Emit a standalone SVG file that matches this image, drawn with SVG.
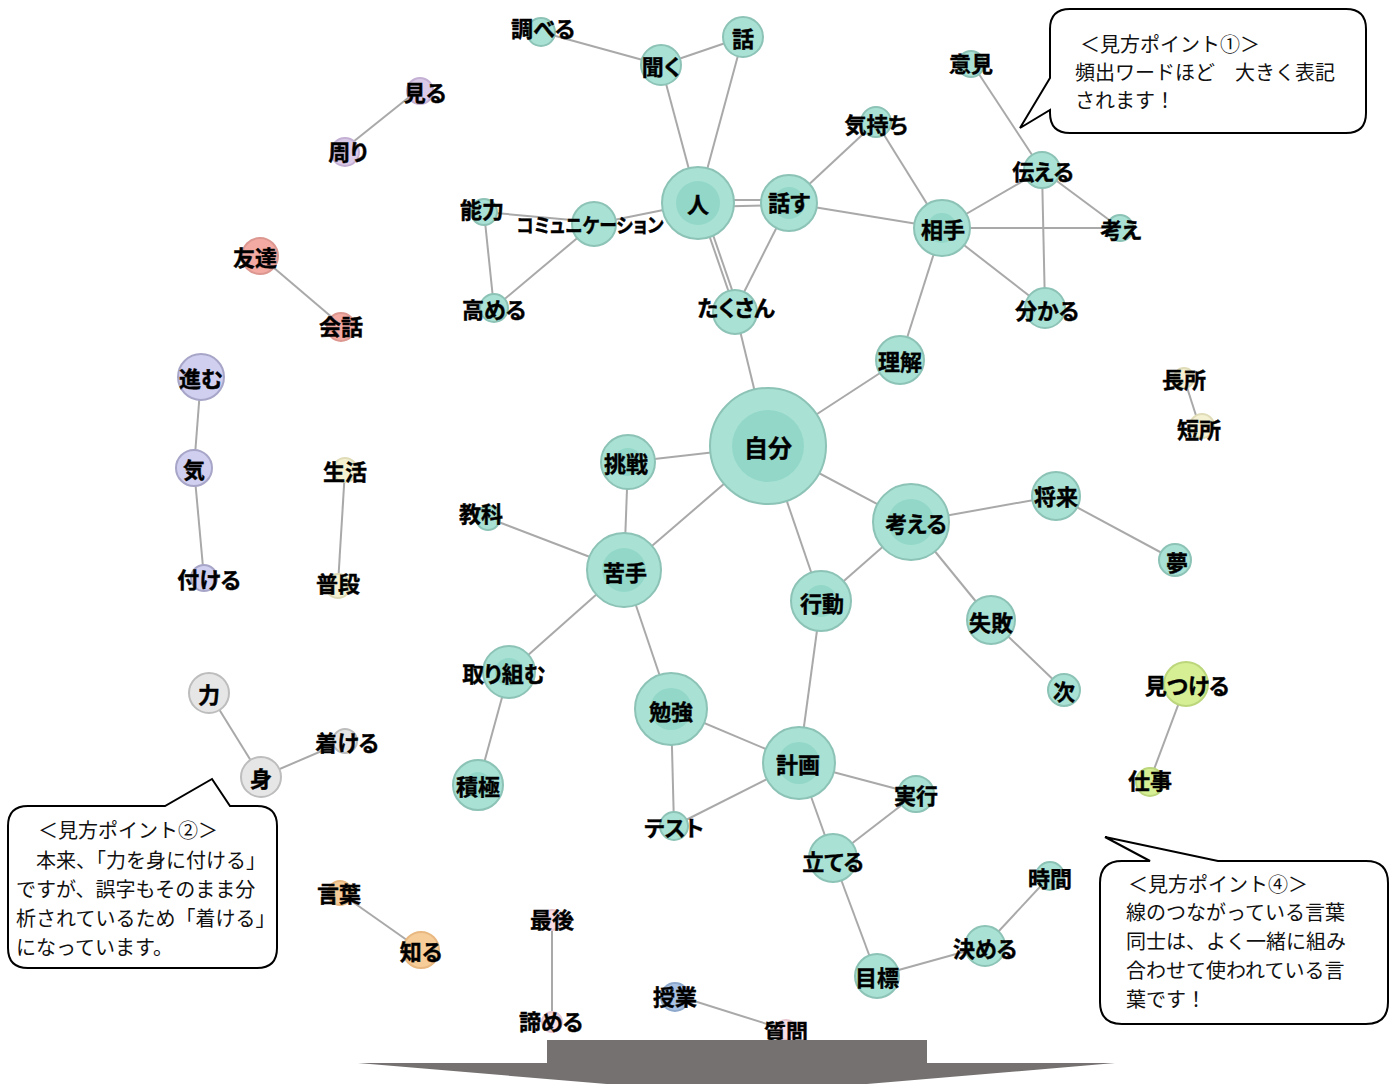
<svg xmlns="http://www.w3.org/2000/svg" width="1397" height="1084" viewBox="0 0 1397 1084">
<style>
.e line{stroke:#a9a9a9;stroke-width:2}
.n circle{stroke-width:2}
.t{fill:#a9e2d5;stroke:#8cc3b6}
.ti{fill:#92d7c8;stroke:none}
.pu{fill:#dccbe8;stroke:#c4b0d4}
.pk{fill:#f3aaa2;stroke:#dc9890}
.lv{fill:#d0cff0;stroke:#a8a6c8}
.yl{fill:#f4f0d2;stroke:#e0dcb8}
.gy{fill:#e6e6e6;stroke:#bdbdbd}
.or{fill:#f6cc98;stroke:#e8b880}
.ly{fill:#f8dde6;stroke:#e8c8d0}
.bl{fill:#a9c2e4;stroke:#8ea8cc}
.gr{fill:#d6ef94;stroke:#bcd67c}
.lb{font-family:"Noto Sans CJK JP","Noto Sans",sans-serif;font-weight:bold;font-size:22px;fill:#000;text-anchor:middle;dominant-baseline:central;font-feature-settings:"palt";stroke:#000;stroke-width:0.4px}
.co rect,.co path{fill:#fff;stroke:#000;stroke-width:2}
.ct{font-family:"Noto Sans CJK JP","Noto Sans",sans-serif;font-size:20px;fill:#111}
</style>
<rect width="1397" height="1084" fill="#fff"/>
<g id="edges" class="e">
<line x1="541" y1="32" x2="661" y2="65"/>
<line x1="661" y1="65" x2="743" y2="37"/>
<line x1="661" y1="65" x2="698" y2="203"/>
<line x1="743" y1="37" x2="698" y2="203"/>
<line x1="698" y1="200" x2="789" y2="200"/>
<line x1="698" y1="207" x2="789" y2="205"/>
<line x1="698" y1="203" x2="594" y2="224"/>
<line x1="484" y1="212" x2="594" y2="222"/>
<line x1="484" y1="212" x2="494" y2="308"/>
<line x1="594" y1="224" x2="494" y2="308"/>
<line x1="698" y1="203" x2="735" y2="310"/>
<line x1="702" y1="203" x2="739" y2="310"/>
<line x1="789" y1="203" x2="735" y2="310"/>
<line x1="789" y1="203" x2="876" y2="122"/>
<line x1="789" y1="203" x2="942" y2="228"/>
<line x1="876" y1="122" x2="942" y2="228"/>
<line x1="971" y1="62" x2="1042" y2="170"/>
<line x1="1042" y1="170" x2="942" y2="228"/>
<line x1="1042" y1="170" x2="1120" y2="228"/>
<line x1="1042" y1="170" x2="1045" y2="308"/>
<line x1="942" y1="228" x2="1120" y2="228"/>
<line x1="942" y1="228" x2="1045" y2="308"/>
<line x1="942" y1="228" x2="900" y2="360"/>
<line x1="900" y1="360" x2="768" y2="446"/>
<line x1="735" y1="310" x2="768" y2="446"/>
<line x1="768" y1="446" x2="628" y2="462"/>
<line x1="768" y1="446" x2="624" y2="570"/>
<line x1="768" y1="446" x2="911" y2="522"/>
<line x1="768" y1="446" x2="821" y2="601"/>
<line x1="628" y1="462" x2="624" y2="570"/>
<line x1="488" y1="518" x2="624" y2="570"/>
<line x1="624" y1="570" x2="509" y2="672"/>
<line x1="624" y1="570" x2="671" y2="709"/>
<line x1="509" y1="672" x2="478" y2="785"/>
<line x1="911" y1="522" x2="1056" y2="496"/>
<line x1="1056" y1="496" x2="1175" y2="560"/>
<line x1="911" y1="522" x2="991" y2="620"/>
<line x1="911" y1="522" x2="821" y2="601"/>
<line x1="991" y1="620" x2="1064" y2="690"/>
<line x1="821" y1="601" x2="799" y2="763"/>
<line x1="671" y1="709" x2="799" y2="763"/>
<line x1="671" y1="709" x2="674" y2="826"/>
<line x1="674" y1="826" x2="799" y2="763"/>
<line x1="799" y1="763" x2="916" y2="794"/>
<line x1="799" y1="763" x2="833" y2="858"/>
<line x1="916" y1="794" x2="833" y2="858"/>
<line x1="833" y1="858" x2="877" y2="976"/>
<line x1="877" y1="976" x2="985" y2="946"/>
<line x1="985" y1="946" x2="1050" y2="876"/>
<line x1="418" y1="90" x2="343" y2="150"/>
<line x1="260" y1="256" x2="341" y2="325"/>
<line x1="201" y1="377" x2="194" y2="468"/>
<line x1="194" y1="468" x2="204" y2="578"/>
<line x1="345" y1="470" x2="338" y2="584"/>
<line x1="209" y1="693" x2="261" y2="777"/>
<line x1="261" y1="777" x2="345" y2="741"/>
<line x1="340" y1="893" x2="421" y2="950"/>
<line x1="552" y1="918" x2="552" y2="1020"/>
<line x1="675" y1="995" x2="786" y2="1030"/>
<line x1="1184" y1="378" x2="1200" y2="428"/>
<line x1="1186" y1="684" x2="1150" y2="780"/>
</g>
<g id="n-jibun" class="n"><circle class="t" cx="768" cy="446" r="58"/><circle class="ti" cx="768" cy="446" r="36"/><text class="lb" x="768" y="446" style="font-size:24px">自分</text></g>
<g id="n-hito" class="n"><circle class="t" cx="698" cy="203" r="36"/><circle class="ti" cx="698" cy="203" r="22"/><text class="lb" x="698" y="203">人</text></g>
<g id="n-hanasu" class="n"><circle class="t" cx="789" cy="203" r="28"/><circle class="ti" cx="789" cy="203" r="16"/><text class="lb" x="789" y="201">話す</text></g>
<g id="n-kiku" class="n"><circle class="t" cx="661" cy="65" r="20"/><text class="lb" x="661" y="65">聞く</text></g>
<g id="n-hanashi" class="n"><circle class="t" cx="743" cy="37" r="20"/><text class="lb" x="743" y="37">話</text></g>
<g id="n-shiraberu" class="n"><circle class="t" cx="541" cy="32" r="14"/><text class="lb" x="543" y="27">調べる</text></g>
<g id="n-nouryoku" class="n"><circle class="t" cx="484" cy="212" r="13"/><text class="lb" x="482" y="208">能力</text></g>
<g id="n-comm" class="n"><circle class="t" cx="594" cy="224" r="22"/><text class="lb" x="590" y="224" textLength="147" lengthAdjust="spacingAndGlyphs" style="font-size:20px">コミュニケーション</text></g>
<g id="n-takameru" class="n"><circle class="t" cx="494" cy="308" r="14"/><text class="lb" x="494" y="308">高める</text></g>
<g id="n-takusan" class="n"><circle class="t" cx="735" cy="312" r="22"/><text class="lb" x="736" y="306">たくさん</text></g>
<g id="n-kimochi" class="n"><circle class="t" cx="876" cy="122" r="15"/><text class="lb" x="876" y="123">気持ち</text></g>
<g id="n-aite" class="n"><circle class="t" cx="942" cy="228" r="28"/><circle class="ti" cx="942" cy="228" r="15"/><text class="lb" x="943" y="228">相手</text></g>
<g id="n-iken" class="n"><circle class="t" cx="971" cy="64" r="13"/><text class="lb" x="971" y="62">意見</text></g>
<g id="n-tsutaeru" class="n"><circle class="t" cx="1042" cy="170" r="18"/><text class="lb" x="1043" y="170">伝える</text></g>
<g id="n-kangae" class="n"><circle class="t" cx="1120" cy="228" r="13"/><text class="lb" x="1121" y="228">考え</text></g>
<g id="n-wakaru" class="n"><circle class="t" cx="1045" cy="308" r="20"/><text class="lb" x="1047" y="309">分かる</text></g>
<g id="n-rikai" class="n"><circle class="t" cx="900" cy="360" r="24"/><text class="lb" x="900" y="360">理解</text></g>
<g id="n-chousen" class="n"><circle class="t" cx="628" cy="462" r="27"/><circle class="ti" cx="628" cy="462" r="14"/><text class="lb" x="626" y="462">挑戦</text></g>
<g id="n-nigate" class="n"><circle class="t" cx="624" cy="570" r="37"/><circle class="ti" cx="624" cy="570" r="22"/><text class="lb" x="625" y="571">苦手</text></g>
<g id="n-kyouka" class="n"><circle class="t" cx="488" cy="518" r="12"/><text class="lb" x="481" y="512">教科</text></g>
<g id="n-kangaeru" class="n"><circle class="t" cx="911" cy="522" r="38"/><circle class="ti" cx="911" cy="522" r="23"/><text class="lb" x="916" y="522">考える</text></g>
<g id="n-shourai" class="n"><circle class="t" cx="1056" cy="496" r="24"/><text class="lb" x="1056" y="495">将来</text></g>
<g id="n-yume" class="n"><circle class="t" cx="1175" cy="560" r="16"/><text class="lb" x="1177" y="561">夢</text></g>
<g id="n-koudou" class="n"><circle class="t" cx="821" cy="601" r="30"/><circle class="ti" cx="821" cy="601" r="16"/><text class="lb" x="822" y="602">行動</text></g>
<g id="n-shippai" class="n"><circle class="t" cx="991" cy="620" r="24"/><text class="lb" x="991" y="621">失敗</text></g>
<g id="n-tsugi" class="n"><circle class="t" cx="1064" cy="690" r="16"/><text class="lb" x="1064" y="690">次</text></g>
<g id="n-torikumu" class="n"><circle class="t" cx="509" cy="672" r="26"/><circle class="ti" cx="509" cy="672" r="14"/><text class="lb" x="504" y="672">取り組む</text></g>
<g id="n-sekkyoku" class="n"><circle class="t" cx="478" cy="785" r="25"/><circle class="ti" cx="478" cy="785" r="13"/><text class="lb" x="478" y="785">積極</text></g>
<g id="n-benkyou" class="n"><circle class="t" cx="671" cy="709" r="36"/><circle class="ti" cx="671" cy="709" r="21"/><text class="lb" x="671" y="710">勉強</text></g>
<g id="n-keikaku" class="n"><circle class="t" cx="799" cy="763" r="36"/><circle class="ti" cx="799" cy="763" r="21"/><text class="lb" x="798" y="763">計画</text></g>
<g id="n-test" class="n"><circle class="t" cx="674" cy="826" r="14"/><text class="lb" x="674" y="826">テスト</text></g>
<g id="n-jikkou" class="n"><circle class="t" cx="916" cy="794" r="18"/><text class="lb" x="916" y="794">実行</text></g>
<g id="n-tateru" class="n"><circle class="t" cx="833" cy="858" r="24"/><text class="lb" x="833" y="860">立てる</text></g>
<g id="n-mokuhyou" class="n"><circle class="t" cx="877" cy="976" r="22"/><text class="lb" x="877" y="976">目標</text></g>
<g id="n-kimeru" class="n"><circle class="t" cx="985" cy="946" r="20"/><text class="lb" x="985" y="947">決める</text></g>
<g id="n-jikan" class="n"><circle class="t" cx="1050" cy="876" r="14"/><text class="lb" x="1050" y="877">時間</text></g>
<g id="n-miru" class="n"><circle class="pu" cx="420" cy="91" r="13"/><text class="lb" x="425" y="91">見る</text></g>
<g id="n-mawari" class="n"><circle class="pu" cx="345" cy="152" r="14"/><text class="lb" x="348" y="150">周り</text></g>
<g id="n-tomodachi" class="n"><circle class="pk" cx="260" cy="256" r="18"/><text class="lb" x="255" y="256">友達</text></g>
<g id="n-kaiwa" class="n"><circle class="pk" cx="341" cy="327" r="14"/><text class="lb" x="341" y="325">会話</text></g>
<g id="n-susumu" class="n"><circle class="lv" cx="201" cy="377" r="23"/><text class="lb" x="201" y="377">進む</text></g>
<g id="n-ki" class="n"><circle class="lv" cx="194" cy="468" r="18"/><text class="lb" x="194" y="468">気</text></g>
<g id="n-tsukeru" class="n"><circle class="lv" cx="204" cy="578" r="13"/><text class="lb" x="209" y="578">付ける</text></g>
<g id="n-seikatsu" class="n"><circle class="yl" cx="345" cy="470" r="12"/><text class="lb" x="345" y="470">生活</text></g>
<g id="n-fudan" class="n"><circle class="yl" cx="338" cy="586" r="12"/><text class="lb" x="338" y="582">普段</text></g>
<g id="n-chikara" class="n"><circle class="gy" cx="209" cy="693" r="20"/><text class="lb" x="209" y="693">力</text></g>
<g id="n-mi" class="n"><circle class="gy" cx="261" cy="777" r="20"/><text class="lb" x="261" y="777">身</text></g>
<g id="n-tsukeru2" class="n"><circle class="gy" cx="345" cy="741" r="12"/><text class="lb" x="347" y="741">着ける</text></g>
<g id="n-kotoba" class="n"><circle class="or" cx="340" cy="893" r="12"/><text class="lb" x="339" y="892">言葉</text></g>
<g id="n-shiru" class="n"><circle class="or" cx="421" cy="950" r="18"/><text class="lb" x="421" y="950">知る</text></g>
<g id="n-saigo" class="n"><circle class="ly" cx="552" cy="920" r="10"/><text class="lb" x="552" y="918">最後</text></g>
<g id="n-akirameru" class="n"><circle class="ly" cx="552" cy="1022" r="10"/><text class="lb" x="551" y="1020">諦める</text></g>
<g id="n-jugyou" class="n"><circle class="bl" cx="675" cy="997" r="14"/><text class="lb" x="675" y="995">授業</text></g>
<g id="n-shitsumon" class="n"><circle class="ly" cx="786" cy="1030" r="10"/><text class="lb" x="786" y="1030">質問</text></g>
<g id="n-chousho" class="n"><circle class="yl" cx="1184" cy="378" r="10"/><text class="lb" x="1184" y="378">長所</text></g>
<g id="n-tansho" class="n"><circle class="yl" cx="1202" cy="426" r="12"/><text class="lb" x="1199" y="428">短所</text></g>
<g id="n-mitsukeru" class="n"><circle class="gr" cx="1186" cy="684" r="22"/><text class="lb" x="1187" y="684">見つける</text></g>
<g id="n-shigoto" class="n"><circle class="gr" cx="1150" cy="782" r="14"/><text class="lb" x="1150" y="779">仕事</text></g>
<g id="callout1" class="co">
<path d="M1070 9 H1346 Q1366 9 1366 29 V113 Q1366 133 1346 133 H1070 Q1050 133 1050 113 V110 L1020 128 L1050 78 V29 Q1050 9 1070 9 Z"/>
<text class="ct" x="1080" y="52">＜見方ポイント①＞</text>
<text class="ct" x="1075" y="80">頻出ワードほど　大きく表記</text>
<text class="ct" x="1075" y="108">されます！</text>
</g>
<g id="callout2" class="co">
<path d="M28 806 H165 L212 779 L230 806 H257 Q277 806 277 826 V948 Q277 968 257 968 H28 Q8 968 8 948 V826 Q8 806 28 806 Z"/>
<text class="ct" x="38" y="838">＜見方ポイント②＞</text>
<text class="ct" x="16" y="868">　本来、「力を身に付ける」</text>
<text class="ct" x="16" y="897">ですが、誤字もそのまま分</text>
<text class="ct" x="16" y="926">析されているため「着ける」</text>
<text class="ct" x="16" y="955">になっています。</text>
</g>
<g id="callout4" class="co">
<path d="M1122 861 H1150 L1105 837 L1218 861 H1366 Q1388 861 1388 883 V1002 Q1388 1024 1366 1024 H1122 Q1100 1024 1100 1002 V883 Q1100 861 1122 861 Z"/>
<text class="ct" x="1128" y="892">＜見方ポイント④＞</text>
<text class="ct" x="1126" y="920">線のつながっている言葉</text>
<text class="ct" x="1126" y="949">同士は、よく一緒に組み</text>
<text class="ct" x="1126" y="978">合わせて使われている言</text>
<text class="ct" x="1126" y="1007">葉です！</text>
</g>
<g id="arrow">
<path d="M547 1040 H927 V1063 H1115 L737 1095 L358 1063 H547 Z" fill="#757170"/>
</g>
</svg>
